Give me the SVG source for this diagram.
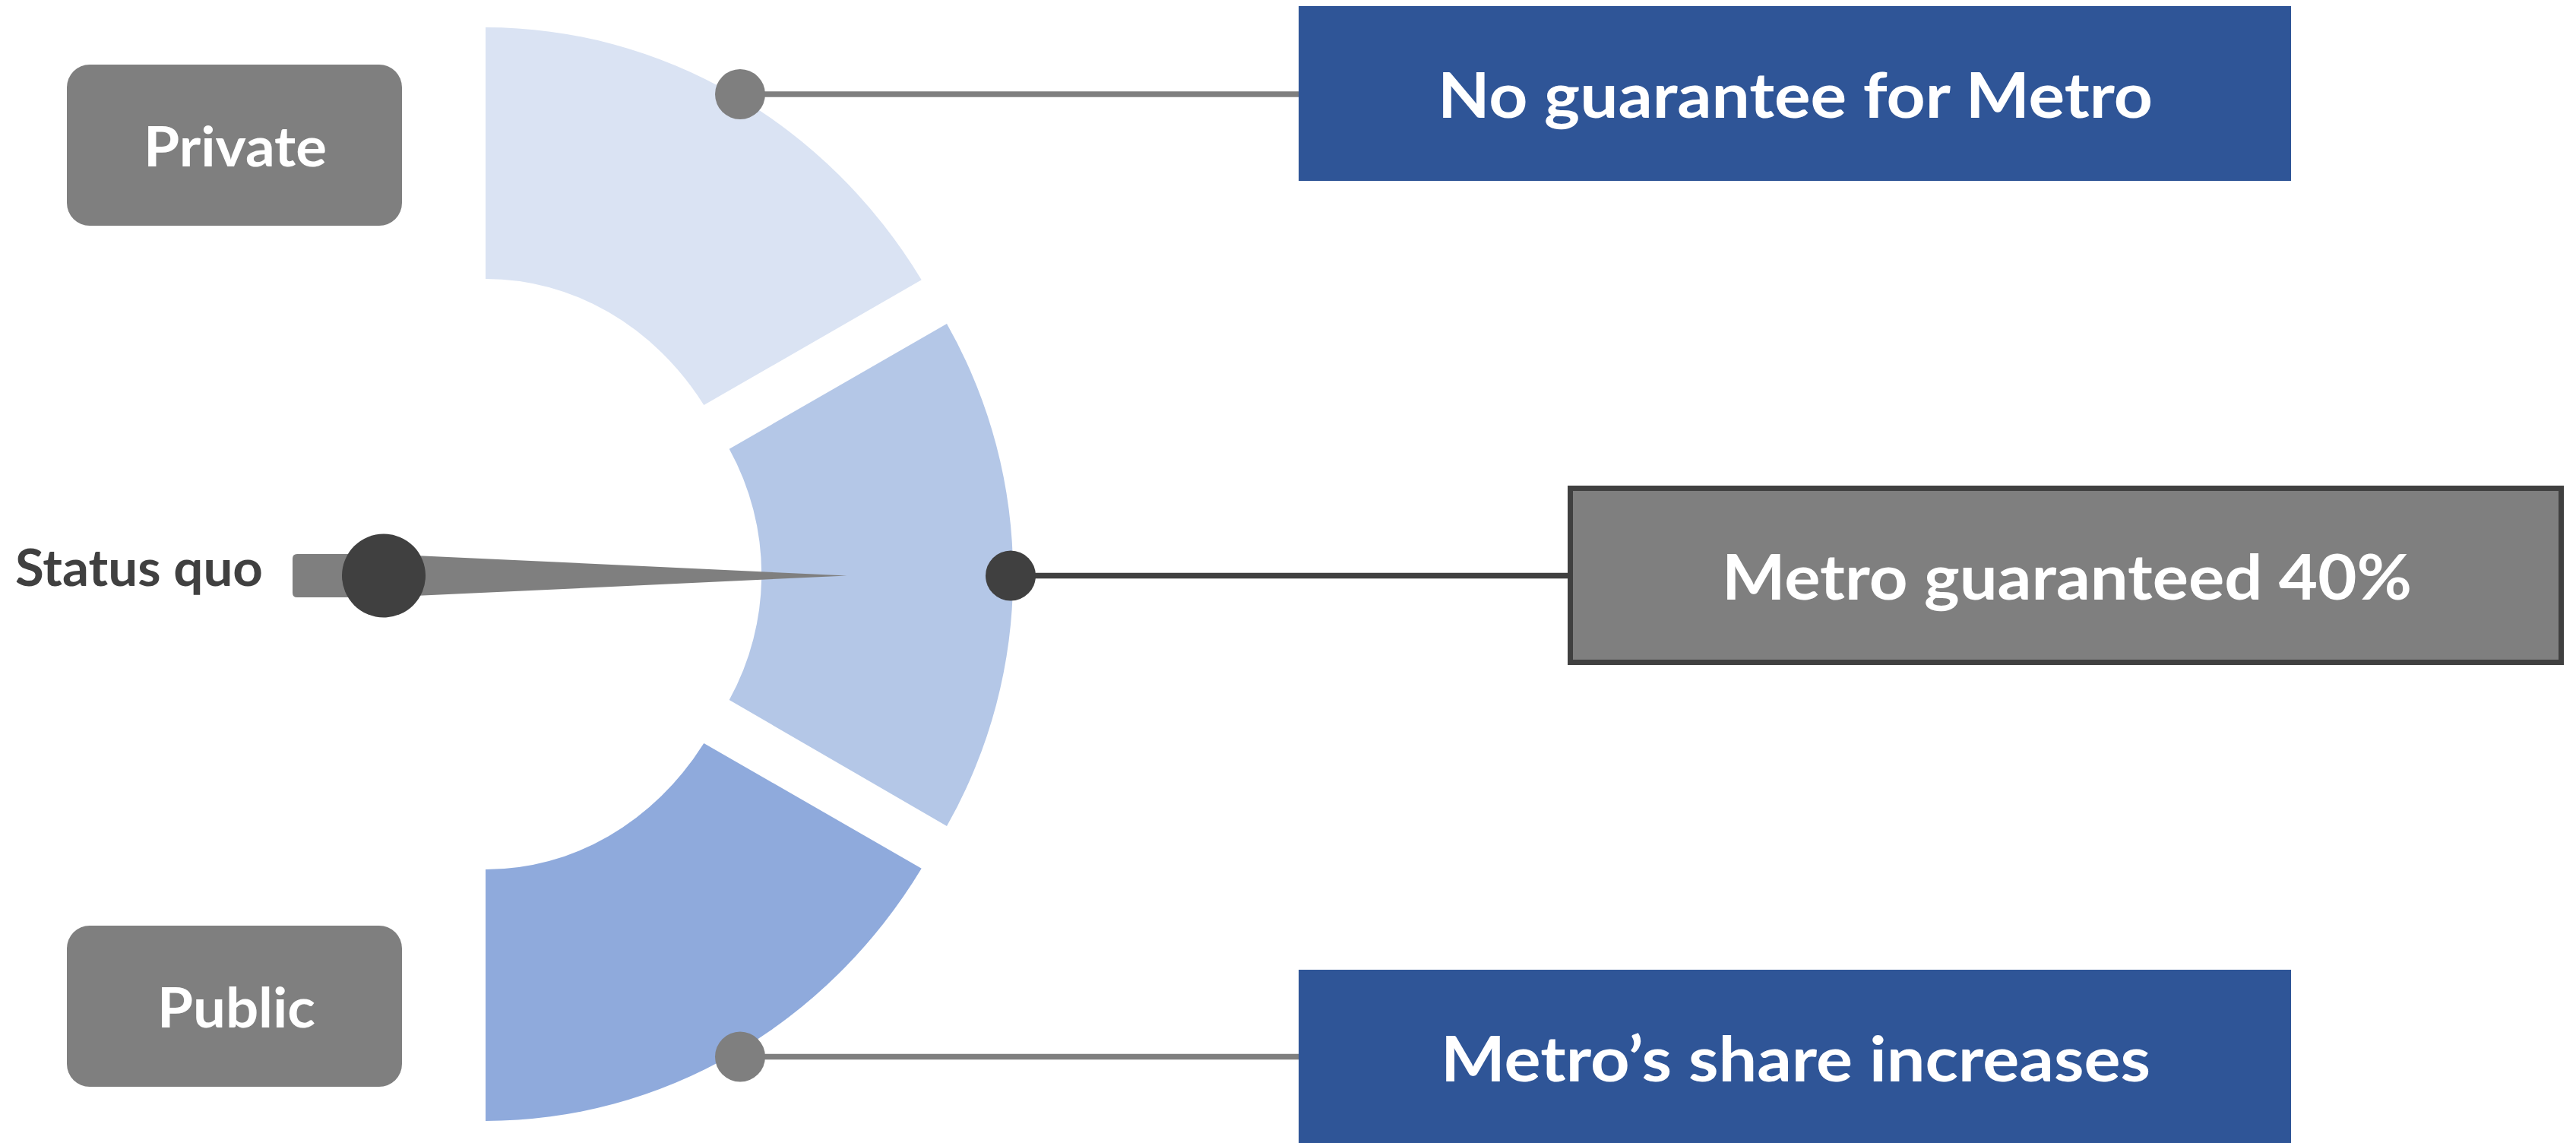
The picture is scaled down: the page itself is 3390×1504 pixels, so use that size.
<svg xmlns="http://www.w3.org/2000/svg" width="3390" height="1504" viewBox="0 0 3390 1504">
<style>
.lbl{font-family:Lato,"Open Sans","Liberation Sans",sans-serif;font-weight:bold;fill:#FFFFFF}
.dark{fill:#404040}
.gray{fill:#7F7F7F}
.conn-g{stroke:#7F7F7F;stroke-width:7.5;fill:none}
.conn-d{stroke:#404040;stroke-width:7.5;fill:none}
.blue{fill:#2F5597}
</style>
<rect width="3390" height="1504" fill="#FFFFFF"/>
<g id="gauge">
  <path id="seg-private" d="M639,36 A680.6,719.5 0 0 1 1212.7,368.3 L926.3,533 A349.6,388.5 0 0 0 639,367 Z" fill="#DAE3F3"/>
  <path id="seg-middle" d="M1246,426 A694,681 0 0 1 1246,1087 L959.7,921 A363.5,352 0 0 0 959.7,590.7 Z" fill="#B4C7E7"/>
  <path id="seg-public" d="M639,1475 A680.6,719.5 0 0 0 1212.7,1142.7 L926.3,978 A349.6,388.5 0 0 1 639,1144 Z" fill="#8FAADC"/>
</g>
<g id="connectors">
  <line class="conn-g" x1="974" y1="124" x2="1709" y2="124"/>
  <line class="conn-d" x1="1330" y1="757.5" x2="2064" y2="757.5"/>
  <line class="conn-g" x1="974" y1="1390.5" x2="1709" y2="1390.5"/>
  <circle class="gray" cx="974" cy="124" r="33"/>
  <circle class="dark" cx="1330" cy="757.5" r="33"/>
  <circle class="gray" cx="974" cy="1390.5" r="33"/>
</g>
<g id="needle">
  <path class="gray" d="M391,729 L505,729 L1114.5,757.5 L505,786 L391,786 Q385,786 385,780 L385,735 Q385,729 391,729 Z"/>
  <circle class="dark" cx="505" cy="757.5" r="55"/>
</g>
<g id="status-quo">
  <text x="20" y="771" font-size="67" textLength="326" lengthAdjust="spacingAndGlyphs" class="lbl" style="fill:#404040">Status quo</text>
</g>
<g id="private">
  <rect class="gray" x="88" y="85" width="441" height="212" rx="30" ry="30"/>
  <text x="189" y="219" font-size="73" textLength="241" lengthAdjust="spacingAndGlyphs" class="lbl">Private</text>
</g>
<g id="public">
  <rect class="gray" x="88" y="1218" width="441" height="212" rx="30" ry="30"/>
  <text x="207" y="1352" font-size="73" textLength="208" lengthAdjust="spacingAndGlyphs" class="lbl">Public</text>
</g>
<g id="no-guarantee">
  <rect class="blue" x="1709" y="8" width="1306" height="230"/>
  <text x="1892" y="155" font-size="82" textLength="941" lengthAdjust="spacingAndGlyphs" class="lbl">No guarantee for Metro</text>
</g>
<g id="guaranteed-40">
  <rect x="2066.5" y="642.5" width="1304" height="229" fill="#7F7F7F" stroke="#404040" stroke-width="7"/>
  <text x="2266" y="789" font-size="82" textLength="908" lengthAdjust="spacingAndGlyphs" class="lbl">Metro guaranteed 40%</text>
</g>
<g id="share-increases">
  <rect class="blue" x="1709" y="1276" width="1306" height="232"/>
  <text x="1896" y="1423" font-size="82" textLength="934" lengthAdjust="spacingAndGlyphs" class="lbl">Metro’s share increases</text>
</g>
</svg>
